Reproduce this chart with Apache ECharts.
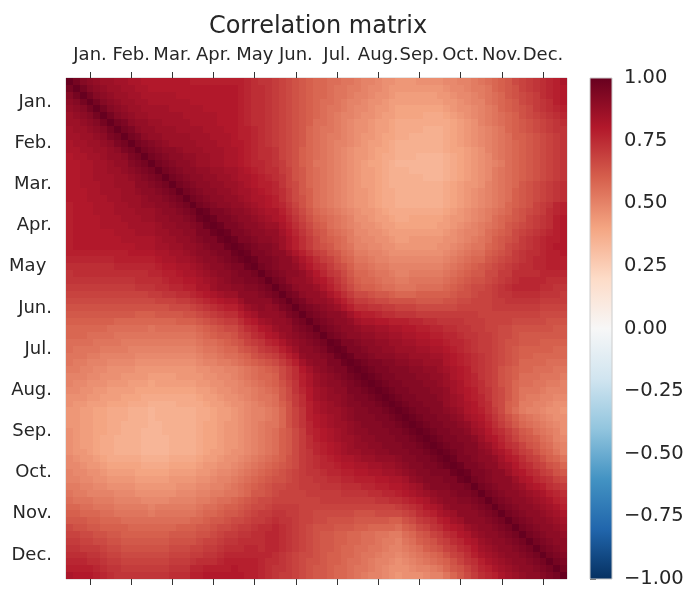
<!DOCTYPE html>
<html><head><meta charset="utf-8">
<script src="https://cdn.jsdelivr.net/npm/echarts@6/dist/echarts.min.js"></script>
<style>html,body{margin:0;padding:0;background:#fff}#c{width:692px;height:589px}</style>
</head><body><div id="c"></div>
<script>
// Month tick labels (one tick every 6 cells, starting at cell 3)
const monthLabels = ['Jan.','Feb.','Mar.','Apr.','May','Jun.','Jul.','Aug.','Sep.','Oct.','Nov.','Dec.'];
const firstTick = 3, tickStep = 6;
// colour bar tick values
const colorbarTicks = [-1, -0.75, -0.5, -0.25, 0, 0.25, 0.5, 0.75, 1];
// value code: character index k in CODE  ->  correlation 0.30 + 0.02*k
const CODE = '0123456789ABCDEFGHIJKLMNOPQRSTUVWXYZ';
// upper triangle of the symmetric correlation matrix, row i holds columns i..72
const upperRows = [
'ZXVUTS SRRQQP PPPPPP OOOOOO OONMLL KJIHGF EEDDCC BAA988 777888 899AAB CDEFGI JKLMNO Q',
'ZXVUTS SRRQQ PPPPPP PPPPPP PONMML KJIHGF EEDCCB BA9987 777777 7899AB BCEFGH JKLMNO P',
'ZXVUTS SRRQ QQQQPP PPPPPP PONMML KJIHGF EEDCCB AA9887 666666 77899A BCDEGH IJKMNO P',
'ZXVUTS SRR QQQQQQ PPPPPP PONMML KJIHGF EDDCBA A98876 666666 67789A ACDEFG IJKLMO P',
'ZXVUTS SR RRRQQQ QQPPPP PONMML KJIHGF EDCCBA 998776 555555 567889 ABCEFG HIKLMN O',
'ZXVUTS S RRRRRQ QQQQPP PONMML KJIHGF EDCBAA 988766 555544 456789 ABCDEF HIJKLM N',
'ZXWUTT SSRRRR QQQQPP PONMML KJIHGF DDCBA9 887665 444444 445678 ABCDEF GHIJKL M',
'ZXWUTT SSSRR RRQQQP POONML KJIHGE DCCBA9 887665 444433 345678 9ABCEF GHIJKL L',
'ZXWUTT SSSS RRRQQQ POONML KJIHGE DCBBA9 877655 443333 345678 9ABCDF FGHIJK L',
'ZXWVUT SSS SRRRQQ PPONML KJIHGE DCBAA9 876654 333333 345678 9ABCDE FGHIJK L',
'ZXWVUU TS SSRRRQ QPONMM LJIHFE DCBA98 776554 333333 345567 8ABCDE FGHIJK L',
'ZXWVUU T TSSRRQ QPONMM LJIHFE DCBA98 776544 333222 234567 89BCDE FGHIJK L',
'ZXWVUU TSSRRQ QPONNM LKIHFE CCBA98 765543 222222 234567 89ABDE FGHIJK L',
'ZXWVUU TTSSR RQPONM MKJHGE DCBA98 766543 332222 234567 89BCDE FGHIJK L',
'ZXWVUU TTSS RQQPON MLJHGE DCBA98 766543 333322 234567 89BCDE FGHIJK L',
'ZXWVUU TTS SRQPOO NLJIGE DCBA98 766543 333333 345677 8ABCDE GHIJKL M',
'ZXWVUU TT SRRQPO NMKIGF DCBA98 776544 333333 345678 9ABCDF GHIJKL M',
'ZXWVUU T TSRQQP OMKIHF DCBA98 776544 333333 345678 9ABCDF GHIJKL M',
'ZXWVUU TTSRQP ONLJHF DCBA98 776544 333333 345678 9ABCEF GHJKLN O',
'ZYWWVU UTSRQ QOMKIG EDCBA9 877654 444444 456789 ABCDEG HIJKMN O',
'ZYWWVU UTSR QPNLJH FEDCBA 887665 445555 567789 ABDEFG HJKLMO P',
'ZYWWVU UTS SQOMKI GFDCBA 988766 555555 66789A BCDEGH IJKLMO P',
'ZYWWVU UT TRPNLJ HGEDCB 998876 666666 6789AA BDEFGI JKLMNO P',
'ZYWWVU U TSQOMK IGFEDB A99887 667777 7889AB CDFGHI KLMNOO P',
'ZYXWVV USQOMK IHGEDC AA9988 777777 889ABC CEFGIJ KLMNOP P',
'ZYWWVU USQOM KJHGED BBAA98 888888 89ABCD DFGHIK LMMNOO P',
'ZYWWVU USQO MKJHFE CCBAA9 999999 9ABCDE EGHIJK LMNNOO O',
'ZXWVUU TRP NMKIHF DDCBBA AAAAAA ABCDEF GHIJKL MMNNOO O',
'ZXWVUU TR PNLKIG EEDCCB AABBBB BCDEFG GIIKKM MMMNNN N',
'ZXWUTT S QPNLJH FEEDCC BBCCCC CDEFGH HIJKLM NNNNMM M',
'ZXWUTT SQOMKI GFFEDD CCCDDD DEFGHI IJKLMN NNNMML L',
'ZXWUTT SQOMK IIHGGF EEEFFF FFGHHI JJKLLM MMMLLL K',
'ZXWUTT SQOM KKJIIH HHHGGG GHHIIJ JJKKLL LLLKKK K',
'ZXWVUT SQO MMLLKK JJJIII IIIJJJ JJKKKK KKKJJJ J',
'ZXWVUU TR POONMM LLLKKK KKKKKK JJJJJJ JJJIII I',
'ZXWVUU T RQQPPO OONNMM LLLLKK KJJJJI IIIIHH H',
'ZXWVUU TSSRRQ QPPOON NMMLLK KJJIIH HHHHHG G',
'ZXWVUU TTSSR RQQPPO ONNMLL KKJIIH GGGGGG G',
'ZYWWVU UTTS SRRQQP PONNML KKJIHH GGGFFF F',
'ZYWWVU UTT SSSRRQ QPONML KKJIHG FFFFFE E',
'ZYWWVU UU TTSSSR RQPONM LKJIHG FFEEEE E',
'ZYXWWV V UUTTSS SQPONM LKJIHG EEEEDD D',
'ZYXWWV VVUUTT SRQPOM LKJHGF EEDDDC C',
'ZYXWWV VVUUT TSQPON LKJHGF DDDCCC B',
'ZYXWWV VVUU TSRQON MKJHGE DDCCBB A',
'ZYXWWV VVU UTRQPO MLJIGE CCCBAA A',
'ZYXWWV VV UTSRPO NLJIGE CBBAA9 9',
'ZYXWWV V VTSRQP NMJIFE BBAA98 8',
'ZYXWWV VUTSQP OMKIFD BAA988 7',
'ZYXWWV VUTRQ PNLJHF DCBA98 8',
'ZYXWWV VUTR QOMKIG EDCBA9 8',
'ZYXWWV VUS RPNMKI GFDCBA 8',
'ZYXWWV VU SQPNLJ HGFDCA 9',
'ZYXWWV V TSQOML JHGEDB A',
'ZYXWVV UTRQOM KJHFEC A',
'ZYWWVU UTRPO MKJHFE C',
'ZYWWVU USRP NMKJHG E',
'ZYWWVU USQ PNMKJH G',
'ZXWVUU US QPNMLJ I',
'ZXWVUU T SQPOML K',
'ZXWVUU TSRQON M',
'ZXWVUU TSRQON',
'ZXWVUU TSRQO',
'ZXWVUU TSRQ',
'ZXWVUU TSR',
'ZXWVUU TS',
'ZXWVUU T',
'ZXWVUU',
'ZXWVU',
'ZXWV',
'ZXW',
'ZX',
'Z'
];

const N = upperRows.length;
const cells = [];
const bad = [];
for (let i = 0; i < N; i++) {
  const s = upperRows[i].replace(/ /g, '');
  if (s.length !== N - i) bad.push(i + ':' + s.length);
  for (let k = 0; k < s.length; k++) {
    const j = i + k;
    const v = +(0.30 + 0.02 * CODE.indexOf(s[k])).toFixed(2);
    cells.push([j, i, v]);
    if (j !== i) cells.push([i, j, v]);
  }
}
const cats = [];
for (let i = 0; i < N; i++) {
  cats.push((i - firstTick) % tickStep === 0 ? monthLabels[(i - firstTick) / tickStep] : '');
}
const isTick = (idx) => (idx - firstTick) % tickStep === 0;
const FONT = 'DejaVu Sans';
const TXT = '#262626';
const RdBu_r = ['#053061','#2166ac','#4393c3','#92c5de','#d1e5f0','#f7f7f7','#fddbc7','#f4a582','#d6604d','#b2182b','#67001f'];

const G = {left: 66, top: 78, width: 501, height: 501};
const CB = {left: 590, top: 78, width: 22, height: 501};

const stops = RdBu_r.slice().reverse().map((c, k, a) => ({offset: k / (a.length - 1), color: c}));

const chart = echarts.init(document.getElementById('c'), null, {renderer: 'canvas'});
chart.setOption({
  animation: false,
  backgroundColor: '#ffffff',
  textStyle: {fontFamily: FONT},
  title: {
    text: 'Correlation matrix' + (bad.length ? ' BAD ' + bad.join(',') : ''),
    left: 318, top: 15, padding: 0, textAlign: 'center',
    textStyle: {fontFamily: FONT, fontSize: 24, fontWeight: 'normal', color: TXT}
  },
  grid: [
    Object.assign({show: true, borderColor: '#cccccc', borderWidth: 1, backgroundColor: 'transparent', containLabel: false}, G),
    Object.assign({show: false, containLabel: false}, CB)
  ],
  graphic: [{
    type: 'rect', z: 1, silent: true,
    shape: {x: CB.left, y: CB.top, width: CB.width, height: CB.height},
    style: {fill: {type: 'linear', x: 0, y: 0, x2: 0, y2: 1, colorStops: stops}, stroke: '#cccccc', lineWidth: 1}
  }],
  xAxis: [
    {
      type: 'category', gridIndex: 0, data: cats, position: 'top',
      axisLine: {show: false},
      axisTick: {show: true, interval: (i) => isTick(i), alignWithLabel: true, length: 6, lineStyle: {color: '#333333', width: 1}},
      axisLabel: {show: true, interval: (i) => isTick(i), fontFamily: FONT, fontSize: 18, color: TXT, margin: 14},
      splitLine: {show: false}, splitArea: {show: false}
    },
    {
      type: 'category', gridIndex: 0, data: cats, position: 'bottom',
      axisLine: {show: false},
      axisTick: {show: true, interval: (i) => isTick(i), alignWithLabel: true, length: 6, lineStyle: {color: '#333333', width: 1}},
      axisLabel: {show: false},
      splitLine: {show: false}, splitArea: {show: false}
    },
    {type: 'value', gridIndex: 1, show: false, min: 0, max: 1}
  ],
  yAxis: [
    {
      type: 'category', gridIndex: 0, data: cats, inverse: true,
      axisLine: {show: false},
      axisTick: {show: false},
      axisLabel: {show: true, interval: (i) => isTick(i), fontFamily: FONT, fontSize: 18, color: TXT, margin: 14,
        formatter: (v) => (v.endsWith('.') ? v : v + ' ')},
      splitLine: {show: false}, splitArea: {show: false}
    },
    {
      type: 'value', gridIndex: 1, position: 'right', min: colorbarTicks[0], max: colorbarTicks[colorbarTicks.length - 1],
      interval: colorbarTicks[1] - colorbarTicks[0],
      axisLine: {show: false},
      axisTick: {show: true, length: 6, lineStyle: {color: '#333333', width: 1}},
      axisLabel: {show: true, fontFamily: FONT, fontSize: 19.5, color: TXT, margin: 12,
        formatter: (v) => (v < 0 ? '\u2212' : '') + Math.abs(v).toFixed(2)},
      splitLine: {show: false}
    }
  ],
  visualMap: {
    type: 'continuous', min: -1, max: 1, dimension: 2, seriesIndex: 0,
    calculable: false, show: false,
    inRange: {color: RdBu_r}
  },
  series: [{
    type: 'custom', coordinateSystem: 'cartesian2d', xAxisIndex: 0, yAxisIndex: 0,
    data: cells, encode: {x: 0, y: 1}, progressive: 0, silent: true,
    renderItem: function (params, api) {
      const c = api.coord([api.value(0), api.value(1)]);
      const sz = api.size([1, 1]);
      const w = Math.abs(sz[0]), h = Math.abs(sz[1]);
      const x0 = Math.round(c[0] - w / 2), x1 = Math.round(c[0] + w / 2);
      const y0 = Math.round(c[1] - h / 2), y1 = Math.round(c[1] + h / 2);
      return {type: 'rect', shape: {x: x0, y: y0, width: x1 - x0, height: y1 - y0},
        style: {fill: api.visual('color')}};
    }
  }]
});
</script></body></html>
